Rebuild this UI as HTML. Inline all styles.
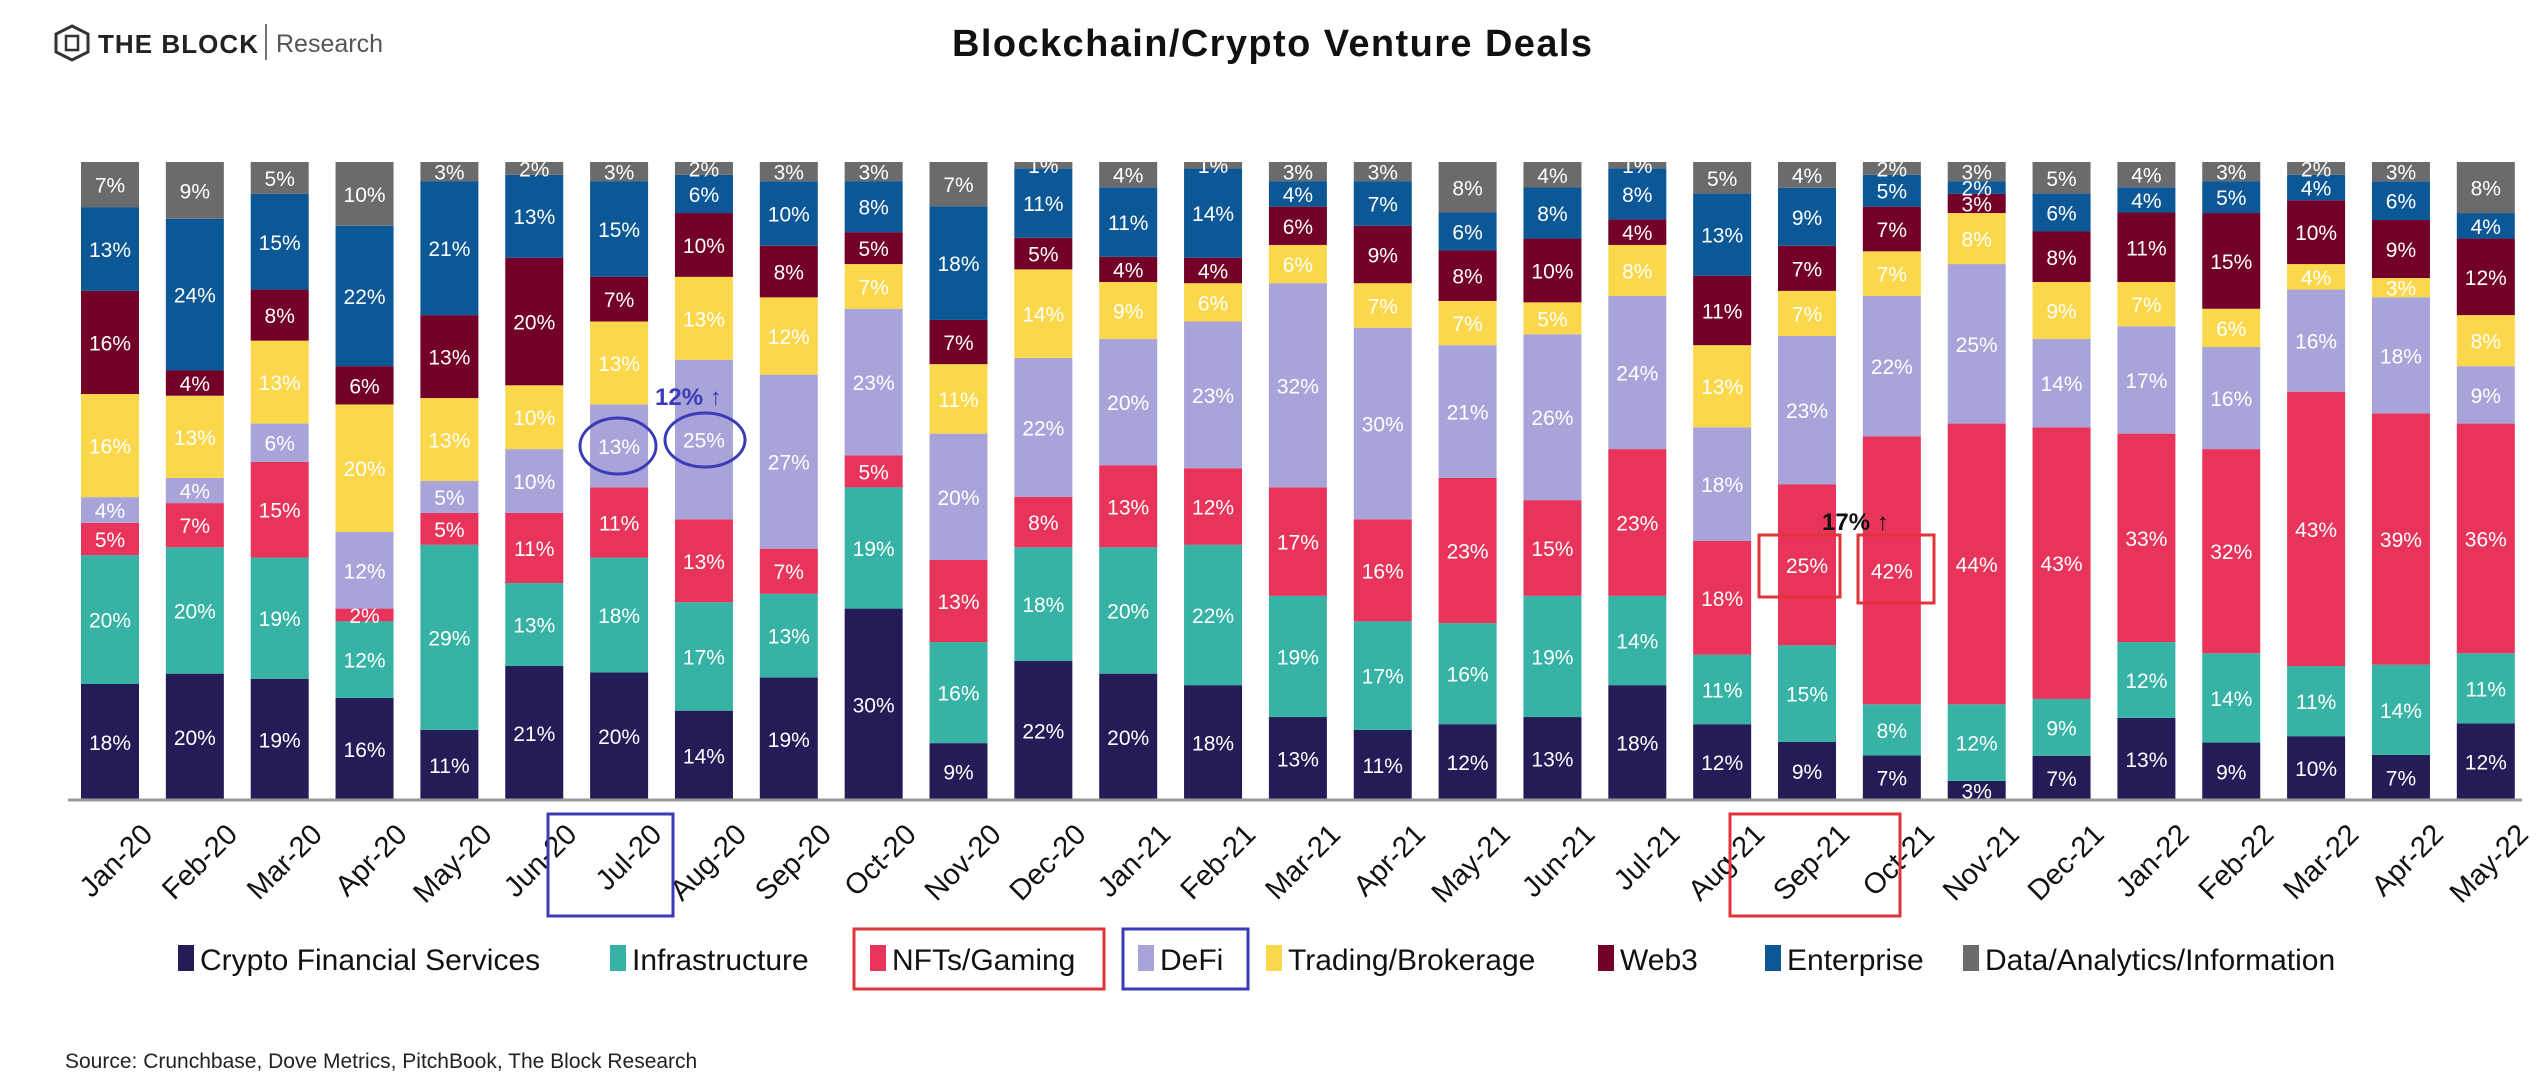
<!DOCTYPE html>
<html><head><meta charset="utf-8"><style>
html,body{margin:0;padding:0;background:#fff;width:2542px;height:1084px;overflow:hidden;font-family:"Liberation Sans",sans-serif}
</style></head><body>
<svg id="chart" width="2542" height="1084" xmlns="http://www.w3.org/2000/svg" font-family="Liberation Sans, sans-serif">
<g>
<polygon points="72,26 88,34 88,52 72,60 56,52 56,34" fill="none" stroke="#333" stroke-width="3"/>
<rect x="66" y="36" width="12" height="14" fill="none" stroke="#333" stroke-width="2.5"/>
<text x="98" y="53" font-size="26" font-weight="bold" fill="#222" textLength="160">THE BLOCK</text>
<line x1="266" y1="24" x2="266" y2="60" stroke="#444" stroke-width="1.5"/>
<text x="276" y="52" font-size="25" fill="#555">Research</text>
</g>
<text x="1272" y="56" font-size="38" font-weight="bold" text-anchor="middle" fill="#111" textLength="640">Blockchain/Crypto Venture Deals</text>
<g id="bars"></g>
<line x1="68" y1="800" x2="2522" y2="800" stroke="#999" stroke-width="3"/>
<g id="xlabels"></g>
<g>
<ellipse cx="618" cy="446" rx="38" ry="28" fill="none" stroke="#3b3bb8" stroke-width="3"/>
<ellipse cx="705" cy="440" rx="40" ry="27" fill="none" stroke="#3b3bb8" stroke-width="3"/>
<text x="655" y="405" font-size="24" font-weight="bold" fill="#3b3bb8">12% ↑</text>
<rect x="1759" y="535" width="81" height="62" fill="none" stroke="#e0343a" stroke-width="3"/>
<rect x="1858" y="535" width="76" height="68" fill="none" stroke="#e0343a" stroke-width="3"/>
<text x="1822" y="530" font-size="24" font-weight="bold" fill="#111">17% ↑</text>
<rect x="548" y="814" width="125" height="102" fill="none" stroke="#3b3bb8" stroke-width="3"/>
<rect x="1730" y="814" width="170" height="102" fill="none" stroke="#e0343a" stroke-width="3"/>
</g>
<g id="legend"></g>
<rect x="854" y="929" width="250" height="60" fill="none" stroke="#e0343a" stroke-width="3"/>
<rect x="1123" y="929" width="125" height="60" fill="none" stroke="#3b3bb8" stroke-width="3"/>
<text x="65" y="1068" font-size="21" fill="#222">Source: Crunchbase, Dove Metrics, PitchBook, The Block Research</text>
</svg>
<script>
const months=["Jan-20","Feb-20","Mar-20","Apr-20","May-20","Jun-20","Jul-20","Aug-20","Sep-20","Oct-20","Nov-20","Dec-20","Jan-21","Feb-21","Mar-21","Apr-21","May-21","Jun-21","Jul-21","Aug-21","Sep-21","Oct-21","Nov-21","Dec-21","Jan-22","Feb-22","Mar-22","Apr-22","May-22"];
const seriesNames=["Crypto Financial Services","Infrastructure","NFTs/Gaming","DeFi","Trading/Brokerage","Web3","Enterprise","Data/Analytics/Information"];
const cfs=[18,20,19,16,11,21,20,14,19,30,9,22,20,18,13,11,12,13,18,12,9,7,3,7,13,9,10,7,12];
const infra=[20,20,19,12,29,13,18,17,13,19,16,18,20,22,19,17,16,19,14,11,15,8,12,9,12,14,11,14,11];
const nft=[5,7,15,2,5,11,11,13,7,5,13,8,13,12,17,16,23,15,23,18,25,42,44,43,33,32,43,39,36];
const defi=[4,4,6,12,5,10,13,25,27,23,20,22,20,23,32,30,21,26,24,18,23,22,25,14,17,16,16,18,9];
const trading=[16,13,13,20,13,10,13,13,12,7,11,14,9,6,6,7,7,5,8,13,7,7,8,9,7,6,4,3,8];
const web3=[16,4,8,6,13,20,7,10,8,5,7,5,4,4,6,9,8,10,4,11,7,7,3,8,11,15,10,9,12];
const enterprise=[13,24,15,22,21,13,15,6,10,8,18,11,11,14,4,7,6,8,8,13,9,5,2,6,4,5,4,6,4];
const dataInfo=[7,9,5,10,3,2,3,2,3,3,7,1,4,1,3,3,8,4,1,5,4,2,3,5,4,3,2,3,8];
const colors=["#241c57","#36b3a4","#e8345b","#a8a4da","#fbd84b","#720029","#0c5795","#6b6b6e"];
const series=[cfs,infra,nft,defi,trading,web3,enterprise,dataInfo];
const keys=["cfs","infra","nft","defi","trading","web3","enterprise","data"];
const NS="http://www.w3.org/2000/svg";
const plotL=81,plotTop=162,plotBot=800,pitch=84.85,bw=58;
function xPos(i){return plotL+i*pitch;}
function yScale(frac){return plotBot-frac*(plotBot-plotTop);}
const bars=document.getElementById('bars');
months.forEach((m,i)=>{
  let total=0;series.forEach(s=>total+=s[i]);
  let cum=0;
  series.forEach((s,k)=>{
    const v=s[i];
    const y1=yScale(cum/total),y0=yScale((cum+v)/total);
    cum+=v;
    const r=document.createElementNS(NS,'rect');
    r.setAttribute('x',xPos(i));r.setAttribute('y',y0);r.setAttribute('width',bw);r.setAttribute('height',Math.max(0,y1-y0));r.setAttribute('fill',colors[k]);
    
    
    bars.appendChild(r);
    if(v>=1){
      const t=document.createElementNS(NS,'text');
      t.setAttribute('x',xPos(i)+bw/2);t.setAttribute('y',(y0+y1)/2+8);
      t.setAttribute('text-anchor','middle');t.setAttribute('font-size','21');t.setAttribute('fill','#fff');
      t.textContent=v+'%';
      
      
      bars.appendChild(t);
    }
  });
  const xl=document.createElementNS(NS,'text');
  const cx=xPos(i)+bw/2+30,cy=822;
  xl.setAttribute('x',cx);xl.setAttribute('y',cy);xl.setAttribute('text-anchor','end');
  xl.setAttribute('transform','rotate(-45 '+cx+' '+cy+')');
  xl.setAttribute('font-size','29');xl.setAttribute('fill','#111');xl.setAttribute('dominant-baseline','hanging');
  xl.textContent=m;
  
  
  document.getElementById('xlabels').appendChild(xl);
});
const legX=[178,610,870,1138,1266,1598,1765,1963];
const leg=document.getElementById('legend');
seriesNames.forEach((n,k)=>{
  const g=document.createElementNS(NS,'g');
  
  
  const r=document.createElementNS(NS,'rect');
  r.setAttribute('x',legX[k]);r.setAttribute('y',945);r.setAttribute('width',16);r.setAttribute('height',26);r.setAttribute('fill',colors[k]);
  const t=document.createElementNS(NS,'text');
  t.setAttribute('x',legX[k]+22);t.setAttribute('y',970);t.setAttribute('font-size','30');t.setAttribute('fill','#111');
  t.textContent=n;
  g.appendChild(r);g.appendChild(t);leg.appendChild(g);
});
</script>
</body></html>
